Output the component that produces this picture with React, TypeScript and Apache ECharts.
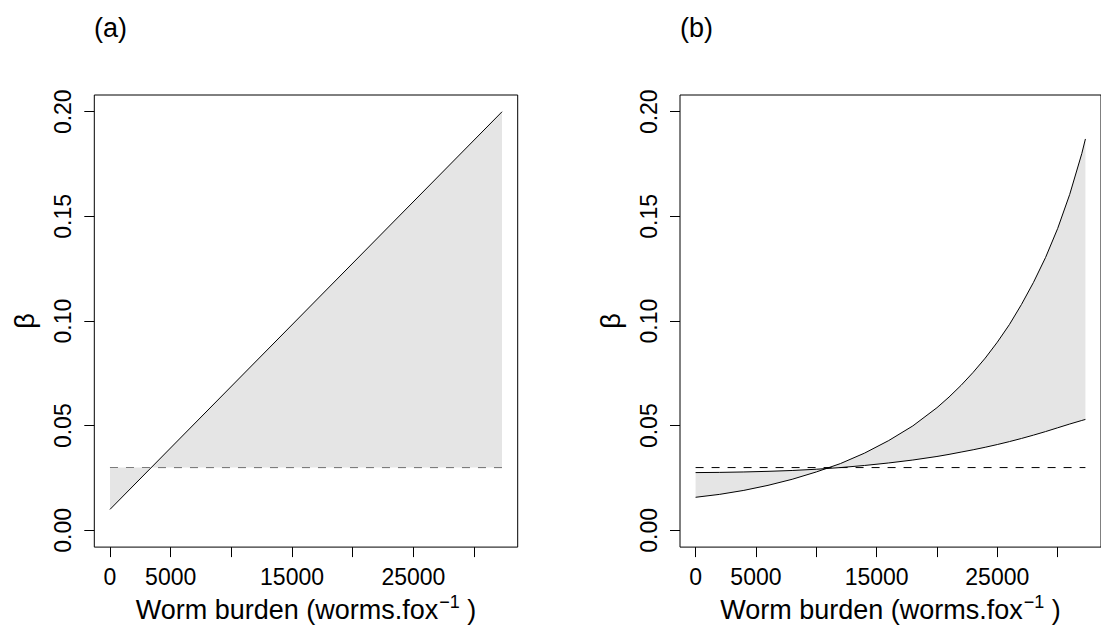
import React, { useEffect, useRef } from "react";
import * as echarts from "echarts";

// ---- data ----
const xMaxData = 32300;
const dashLevel = 0.03;

// panel (a): straight line
const xA = [0, 32300];
const betaA = [0.01, 0.2];

// panel (b): two curves
const xB = [0, 2000, 4000, 6000, 8000, 10000, 12000, 14000, 16000, 18000, 20000, 21000, 22000, 23000, 24000, 25000, 26000, 27000, 28000, 29000, 30000, 31000, 32000, 32300];
const betaB1 = [0.0158, 0.0172, 0.0191, 0.0215, 0.0244, 0.0279, 0.0319, 0.0369, 0.0429, 0.0499, 0.0586, 0.0637, 0.0693, 0.0755, 0.0823, 0.0899, 0.0983, 0.1079, 0.1185, 0.1304, 0.1442, 0.1605, 0.18, 0.187];
const betaB2 = [0.0276, 0.0277, 0.0279, 0.0282, 0.0286, 0.0292, 0.03, 0.031, 0.0322, 0.0336, 0.0353, 0.0363, 0.0374, 0.0385, 0.0397, 0.041, 0.0424, 0.0439, 0.0455, 0.0472, 0.049, 0.0508, 0.0525, 0.053];

// axes ticks
const xTicks = [0, 5000, 10000, 15000, 20000, 25000, 30000];
const xLabelTicks = [0, 5000, 15000, 25000];
const yTicks = [0, 0.05, 0.1, 0.15, 0.2];
const yTickLabels = ["0.00", "0.05", "0.10", "0.15", "0.20"];

const panelTitles = ["(a)", "(b)"];
const xAxisTitle = "Worm burden (worms.fox";
const yAxisTitle = "\u03b2";

const FONT = "'Liberation Sans', Arial, Helvetica, sans-serif";
const FS = 23;
const FS_LAB = 27;

export default function App() {
  const ref = useRef<HTMLDivElement>(null);
  useEffect(() => {
    if (!ref.current) return;
    const chart = echarts.init(ref.current, undefined, { renderer: "svg" });

    const xPad = xMaxData * 0.04;
    const yPad = 0.2 * 0.04;

    const grids = [
      { left: 94.3, top: 95, width: 423.4, height: 453.3 },
      { left: 680, top: 95, width: 423.4, height: 453.3 },
    ].map((g) => ({
      ...g,
      show: true,
      borderColor: "#000",
      borderWidth: 1,
      backgroundColor: "transparent",
      containLabel: false,
    }));

    const mkX = (i: number) => ({
      type: "value",
      gridIndex: i,
      min: -xPad,
      max: xMaxData + xPad,
      splitLine: { show: false },
      axisLine: { show: false, onZero: false },
      axisTick: {
        show: true,
        customValues: xTicks,
        length: 10,
        lineStyle: { color: "#000", width: 1 },
      },
      axisLabel: {
        customValues: xLabelTicks,
        color: "#000",
        fontSize: FS,
        fontFamily: FONT,
        margin: 18,
        formatter: (v: number) => String(v),
      },
      name: `{a|${xAxisTitle}}{s|\u22121}{a| )}`,
      nameLocation: "middle",
      nameGap: 44,
      nameTextStyle: {
        rich: {
          a: { fontSize: FS_LAB, fontFamily: FONT, color: "#000", lineHeight: 30, verticalAlign: "bottom" },
          s: { fontSize: 18, fontFamily: FONT, color: "#000", lineHeight: 30, verticalAlign: "top", padding: [0, 0, 0, 1] },
        },
      },
    });

    const mkY = (i: number) => ({
      type: "value",
      gridIndex: i,
      min: -yPad,
      max: 0.2 + yPad,
      splitLine: { show: false },
      axisLine: { show: false, onZero: false },
      axisTick: {
        show: true,
        customValues: yTicks,
        length: 10,
        lineStyle: { color: "#000", width: 1 },
      },
      axisLabel: {
        customValues: yTicks,
        rotate: 90,
        color: "#000",
        fontSize: FS,
        fontFamily: FONT,
        margin: 20,
        formatter: (v: number) => {
          const idx = yTicks.findIndex((t) => Math.abs(t - v) < 1e-9);
          return idx >= 0 ? yTickLabels[idx] : "";
        },
      },
      name: yAxisTitle,
      nameLocation: "middle",
      nameRotate: 90,
      nameGap: 56,
      nameTextStyle: { fontSize: FS_LAB, fontFamily: FONT, color: "#000" },
    });

    const bandSeries = (i: number, xs: number[], y1: number[], y2: number[]) => ({
      type: "custom",
      xAxisIndex: i,
      yAxisIndex: i,
      silent: true,
      z: 3,
      data: [[0, 0]],
      renderItem: (_p: any, api: any) => {
        const pts: number[][] = [];
        xs.forEach((x, k) => pts.push(api.coord([x, y1[k]])));
        for (let k = xs.length - 1; k >= 0; k--) pts.push(api.coord([xs[k], y2[k]]));
        return {
          type: "polygon",
          shape: { points: pts },
          style: { fill: "#e5e5e5", stroke: "none" },
        };
      },
    });

    const lineSeries = (i: number, xs: number[], ys: number[], dashed: boolean, z: number) => ({
      type: "line",
      xAxisIndex: i,
      yAxisIndex: i,
      data: xs.map((x, k) => [x, ys[k]]),
      symbol: "none",
      silent: true,
      z,
      lineStyle: { color: "#000", width: 1, type: dashed ? [8, 8] : "solid" },
    });

    const dashX = [0, xMaxData];
    const dashY = [dashLevel, dashLevel];
    const dashAtA = xA.map(() => dashLevel);

    chart.setOption({
      animation: false,
      backgroundColor: "#fff",
      textStyle: { fontFamily: FONT },
      grid: grids,
      xAxis: [mkX(0), mkX(1)],
      yAxis: [mkY(0), mkY(1)],
      graphic: [
        { type: "text", left: 94, top: 14, style: { text: panelTitles[0], font: `${FS_LAB}px ${FONT}`, fill: "#000" } },
        { type: "text", left: 680, top: 14, style: { text: panelTitles[1], font: `${FS_LAB}px ${FONT}`, fill: "#000" } },
      ],
      series: [
        lineSeries(0, dashX, dashY, true, 2),
        bandSeries(0, xA, betaA, dashAtA),
        lineSeries(0, xA, betaA, false, 4),
        bandSeries(1, xB, betaB1, betaB2),
        lineSeries(1, dashX, dashY, true, 4),
        lineSeries(1, xB, betaB1, false, 4),
        lineSeries(1, xB, betaB2, false, 4),
      ],
    });
    return () => chart.dispose();
  }, []);
  return (
    <div
      ref={ref}
      style={{ position: "fixed", left: 0, top: 0, width: 1101, height: 628, background: "#fff" }}
    />
  );
}
